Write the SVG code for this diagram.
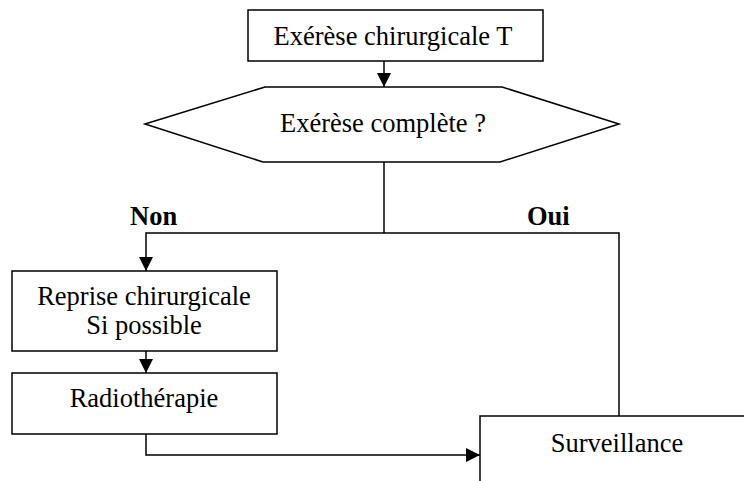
<svg xmlns="http://www.w3.org/2000/svg" width="744" height="481" viewBox="0 0 744 481">
  <style>
    .box { fill: #fff; stroke: #000; stroke-width: 1.5; }
    .lbl { font-family: "Liberation Serif", "Times New Roman", serif; font-size: 26.5px; fill: #000; text-anchor: middle; }
    .bold { font-weight: bold; text-anchor: start; }
    .wire { fill: none; stroke: #000; stroke-width: 1.5; }
  </style>
  <defs>
    <marker id="arrow" viewBox="0 0 14 14" refX="14" refY="7" markerWidth="14" markerHeight="14" markerUnits="userSpaceOnUse" orient="auto">
      <path d="M0,0 L14,7 L0,14 Z" fill="#000"/>
    </marker>
  </defs>

  <g id="connectors">
    <line class="wire" x1="384" y1="61" x2="384" y2="87" marker-end="url(#arrow)"/>
    <polyline class="wire" points="384,162 384,233"/>
    <polyline class="wire" points="384,233 146,233 146,271" marker-end="url(#arrow)"/>
    <polyline class="wire" points="384,233 619,233 619,416"/>
    <line class="wire" x1="146" y1="351" x2="146" y2="373" marker-end="url(#arrow)"/>
    <polyline class="wire" points="146,434 146,455 480,455" marker-end="url(#arrow)"/>
    <text class="lbl bold" x="130" y="225">Non</text>
    <text class="lbl bold" x="527" y="225">Oui</text>
  </g>

  <g id="exerese">
    <rect class="box" x="248" y="10" width="295" height="51"/>
    <text class="lbl" x="393" y="45">Exérèse chirurgicale T</text>
  </g>

  <g id="decision">
    <polygon class="box" points="145,124 265,87 502,87 619,124 500,162 263,162"/>
    <text class="lbl" x="383" y="132">Exérèse complète ?</text>
  </g>

  <g id="reprise">
    <rect class="box" x="12" y="271" width="265" height="80"/>
    <text class="lbl" x="144" y="305">Reprise chirurgicale</text>
    <text class="lbl" x="144" y="334">Si possible</text>
  </g>

  <g id="radiotherapie">
    <rect class="box" x="12" y="373" width="265" height="61"/>
    <text class="lbl" x="144" y="407">Radiothérapie</text>
  </g>

  <g id="surveillance">
    <rect class="box" x="480" y="416" width="280" height="80"/>
    <text class="lbl" x="617" y="452">Surveillance</text>
  </g>
</svg>
